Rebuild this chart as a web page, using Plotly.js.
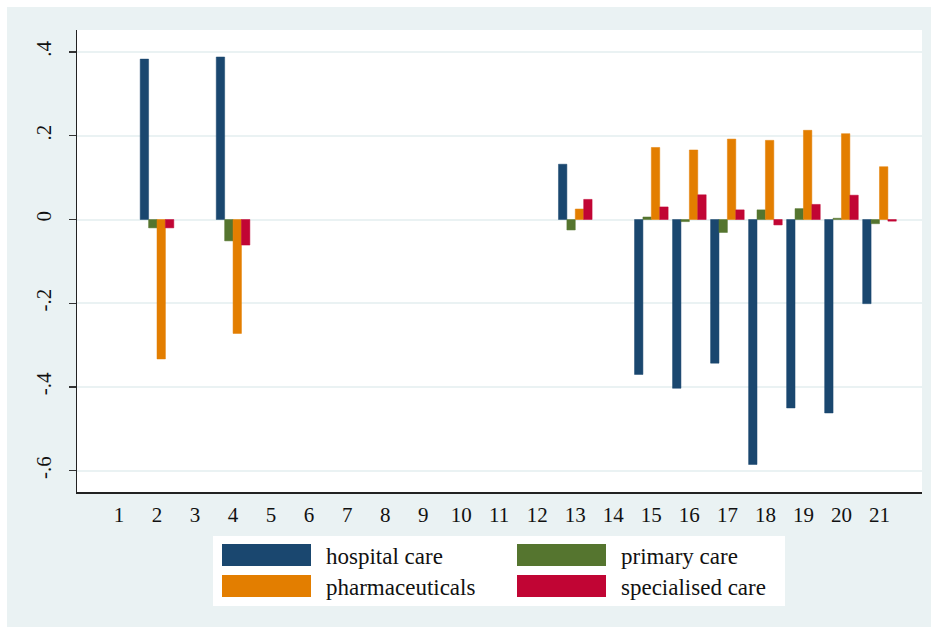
<!DOCTYPE html>
<html>
<head>
<meta charset="utf-8">
<script src="https://cdn.plot.ly/plotly-3.0.1.min.js"></script>
<style>
  html, body { margin: 0; padding: 0; background: #ffffff; }
  #chart { width: 933px; height: 627px; }
</style>
</head>
<body>
<div id="chart"></div>
<script>
// Categories on the horizontal axis
const categories = [1,2,3,4,5,6,7,8,9,10,11,12,13,14,15,16,17,18,19,20,21];
const tickLabels = categories.map(String);

// Series values (null = no bar drawn for that category)
const hospitalCare     = [null, 0.383, null, 0.388, null, null, null, null, null, null, null, null, 0.132, null, -0.370, -0.403, -0.343, -0.585, -0.450, -0.462, -0.201];
const primaryCare      = [null, -0.020, null, -0.051, null, null, null, null, null, null, null, null, -0.025, null, 0.006, -0.005, -0.031, 0.023, 0.026, 0.003, -0.010];
const pharmaceuticals  = [null, -0.333, null, -0.272, null, null, null, null, null, null, null, null, 0.025, null, 0.172, 0.166, 0.192, 0.189, 0.213, 0.205, 0.126];
const specialisedCare  = [null, -0.020, null, -0.061, null, null, null, null, null, null, null, null, 0.048, null, 0.030, 0.059, 0.023, -0.013, 0.036, 0.058, -0.004];

const seriesNames  = ['hospital care', 'primary care', 'pharmaceuticals', 'specialised care'];
const seriesColors = ['#1a476f', '#55752f', '#e37e00', '#c10534'];
const seriesValues = [hospitalCare, primaryCare, pharmaceuticals, specialisedCare];

// Y axis ticks
const yTickVals  = [-0.6, -0.4, -0.2, 0, 0.2, 0.4];
const yTickTexts = ['-.6', '-.4', '-.2', '0', '.2', '.4'];

const W = 933, H = 627;
const M = { l: 77, r: 11, t: 30, b: 135 };
const plotW = W - M.l - M.r, plotH = H - M.t - M.b;
// pixel -> paper coordinate helpers for the frame and legend block
const px = x => (x - M.l) / plotW;
const py = y => (H - M.b - y) / plotH;

const font = '"Liberation Serif", "DejaVu Serif", serif';
const bg = '#eaf2f3';

const traces = seriesValues.map((vals, i) => ({
  type: 'bar',
  x: categories,
  y: vals,
  name: seriesNames[i],
  marker: { color: seriesColors[i], line: { color: seriesColors[i], width: 0.5 } },
  showlegend: false
}));

const shapes = [
  // white strips framing the chart panel
  { type: 'rect', xref: 'paper', yref: 'paper', x0: px(0), x1: px(7), y0: py(H), y1: py(0), fillcolor: '#ffffff', line: { width: 0 }, layer: 'above' },
  { type: 'rect', xref: 'paper', yref: 'paper', x0: px(0), x1: px(W), y0: py(7), y1: py(0), fillcolor: '#ffffff', line: { width: 0 }, layer: 'above' },
  { type: 'rect', xref: 'paper', yref: 'paper', x0: px(931), x1: px(W), y0: py(H), y1: py(0), fillcolor: '#ffffff', line: { width: 0 }, layer: 'above' },
  // legend box
  { type: 'rect', xref: 'paper', yref: 'paper', x0: px(213), x1: px(785), y0: py(606), y1: py(536), fillcolor: '#ffffff', line: { width: 0 } }
];
const annotations = [];

// legend: two columns, filled row by row
const colX = [222, 517], rowY = [544, 575];
const swW = 89, swH = 22;
seriesNames.forEach((name, k) => {
  const c = k % 2, r = Math.floor(k / 2);
  const sx = colX[c], sy = rowY[r];
  shapes.push({
    type: 'rect', xref: 'paper', yref: 'paper',
    x0: px(sx), x1: px(sx + swW), y0: py(sy + swH), y1: py(sy),
    fillcolor: seriesColors[k], line: { width: 0 }
  });
  annotations.push({
    xref: 'paper', yref: 'paper', x: px(sx + swW + 13), y: py(sy + swH / 2 + 1),
    xanchor: 'left', yanchor: 'middle', showarrow: false,
    text: name, font: { family: font, size: 23, color: '#111111' }
  });
});

const layout = {
  width: W, height: H,
  margin: M,
  paper_bgcolor: bg,
  plot_bgcolor: '#ffffff',
  barmode: 'group',
  bargap: 0.116,
  bargroupgap: 0,
  font: { family: font, size: 21, color: '#111111' },
  xaxis: {
    range: [-0.104, 22.118],
    tickmode: 'array', tickvals: categories, ticktext: tickLabels,
    ticks: '', showgrid: false, zeroline: false,
    showline: true, linecolor: '#222222', linewidth: 1.5,
    tickfont: { family: font, size: 21, color: '#111111' },
    ticklabelstandoff: 3,
    fixedrange: true
  },
  yaxis: {
    range: [-0.6507, 0.4525],
    tickmode: 'array', tickvals: yTickVals, ticktext: yTickTexts,
    tickangle: -90,
    ticks: 'outside', ticklen: 7, tickwidth: 1.2, tickcolor: '#333333',
    showgrid: true, gridcolor: bg, gridwidth: 2,
    zeroline: false,
    showline: true, linecolor: '#222222', linewidth: 1.5,
    tickfont: { family: font, size: 21, color: '#111111' },
    ticklabelstandoff: 9,
    fixedrange: true
  },
  shapes: shapes,
  annotations: annotations
};

Plotly.newPlot('chart', traces, layout, { displayModeBar: false, staticPlot: true });
</script>
</body>
</html>
